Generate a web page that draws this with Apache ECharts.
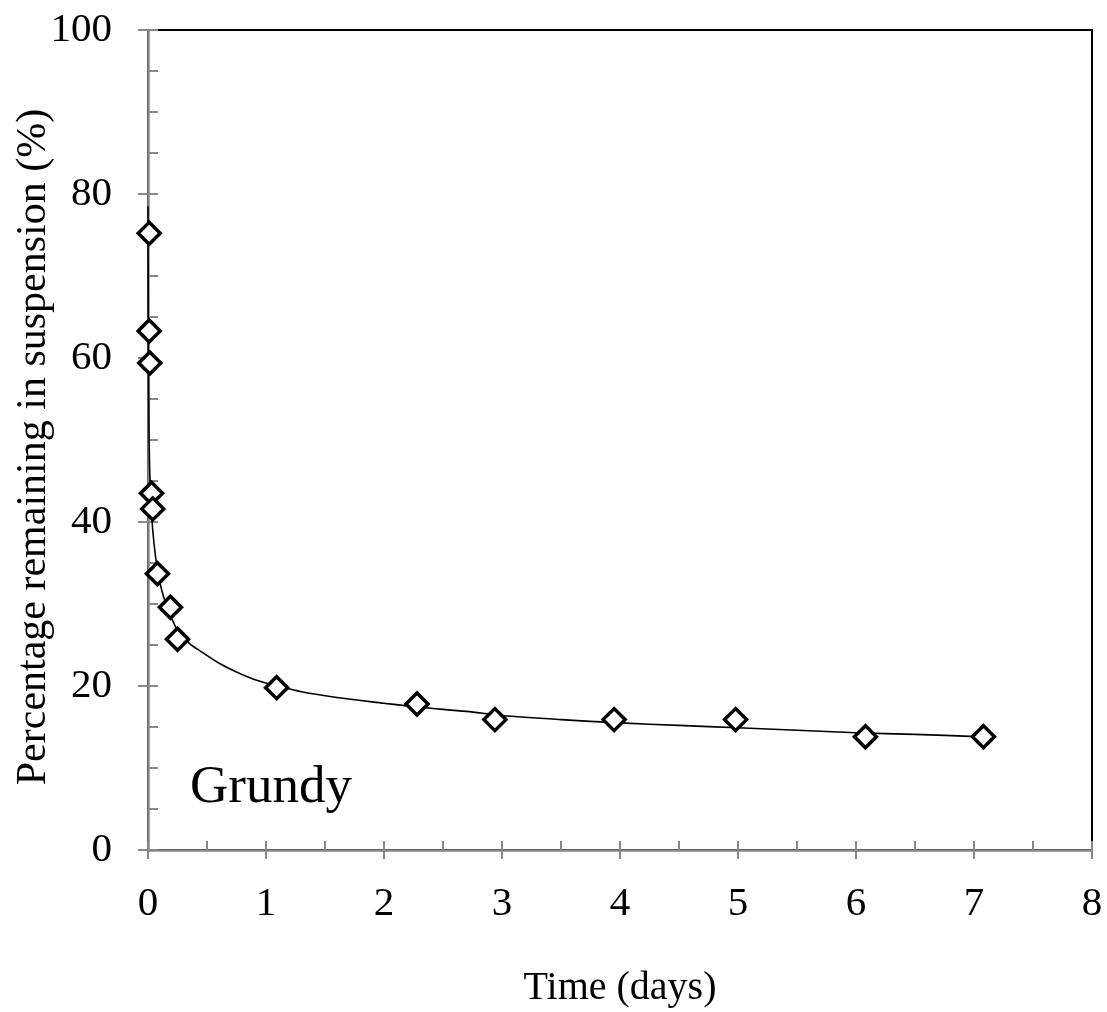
<!DOCTYPE html>
<html>
<head>
<meta charset="utf-8">
<script src="https://cdn.jsdelivr.net/npm/echarts@6/dist/echarts.min.js"></script>
<style>
  html, body { margin: 0; padding: 0; background: #fff; }
  #chart { width: 1107px; height: 1012px; }
</style>
</head>
<body>
<div id="chart"></div>
<script>
// measured points (time in days, % remaining)
const obsTime = [0.01, 0.01, 0.015, 0.03, 0.04, 0.08, 0.19, 0.25, 1.09, 2.28, 2.94, 3.95, 4.98, 6.08, 7.08];
const obsPct = [75.2, 63.3, 59.4, 43.5, 41.6, 33.7, 29.6, 25.7, 19.8, 17.8, 15.9, 15.9, 15.9, 13.8, 13.8];

// fitted curve
const fitTime = [0.0, 0.003, 0.008, 0.015, 0.03, 0.05, 0.08, 0.12, 0.18, 0.25, 0.35, 0.45, 0.6, 0.75, 0.9,
  1.1, 1.3, 1.6, 2.0, 2.3, 2.7, 3.0, 3.5, 4.0, 4.5, 5.0, 5.5, 6.0, 6.5, 7.08];
const fitPct = [78.5, 62, 52, 46, 41, 37.5, 34.2, 31.5, 29, 26.8, 25.2, 24.2, 22.8, 21.7, 20.8,
  20.0, 19.3, 18.6, 17.9, 17.4, 16.9, 16.4, 15.9, 15.5, 15.2, 14.9, 14.6, 14.3, 14.1, 13.8];

const font = "Liberation Serif";
const grey = "#888888";

const chart = echarts.init(document.getElementById("chart"));

const xBase = { type: "value", min: 0, max: 8, interval: 1, position: "bottom" };
const yBase = { type: "value", min: 0, max: 100, interval: 20, position: "left" };

chart.setOption({
  animation: false,
  grid: {
    left: 148, top: 30, right: 15, bottom: 162,
    containLabel: false, outerBoundsMode: "none",
    show: true, borderColor: "#000", borderWidth: 2, backgroundColor: "transparent"
  },
  xAxis: [
    {
      ...xBase,
      name: "Time (days)",
      nameLocation: "middle",
      nameGap: 118,
      nameTextStyle: { fontFamily: font, fontSize: 40, color: "#000" },
      axisLine: { show: true, lineStyle: { color: grey, width: 2.5 } },
      axisTick: { show: true, inside: false, length: 9, lineStyle: { color: grey, width: 2 } },
      minorTick: { show: false },
      axisLabel: { fontFamily: font, fontSize: 41, color: "#000", margin: 34 },
      splitLine: { show: false }
    },
    {
      ...xBase,
      axisLine: { show: false },
      axisTick: { show: true, inside: true, length: 9, lineStyle: { color: grey, width: 2 } },
      minorTick: { show: true, splitNumber: 2, length: 9, lineStyle: { color: grey, width: 2 } },
      axisLabel: { show: false },
      splitLine: { show: false }
    }
  ],
  yAxis: [
    {
      ...yBase,
      axisLine: { show: true, lineStyle: { color: grey, width: 2.5 } },
      axisTick: { show: true, inside: false, length: 10, lineStyle: { color: grey, width: 2 } },
      axisLabel: { fontFamily: font, fontSize: 41, color: "#000", margin: 36 },
      splitLine: { show: false }
    },
    {
      ...yBase,
      axisLine: { show: false },
      axisTick: { show: true, inside: true, length: 10, lineStyle: { color: grey, width: 2 } },
      minorTick: { show: true, splitNumber: 4, length: 10, lineStyle: { color: grey, width: 2 } },
      axisLabel: { show: false },
      splitLine: { show: false }
    }
  ],
  graphic: [
    {
      type: "text", x: 34, y: 447, rotation: Math.PI / 2,
      style: {
        text: "Percentage remaining in suspension (%)", fontFamily: font, fontSize: 42,
        fill: "#000", align: "center", verticalAlign: "middle"
      }
    },
    {
      type: "text", left: 190, top: 762,
      style: { text: "Grundy", fontFamily: font, fontSize: 53, fill: "#000" }
    }
  ],
  series: [
    {
      type: "line",
      data: fitTime.map((t, i) => [t, fitPct[i]]),
      smooth: 0.3,
      showSymbol: false,
      lineStyle: { color: "#000", width: 1.6 },
      z: 2
    },
    {
      type: "scatter",
      data: obsTime.map((t, i) => [t, obsPct[i]]),
      symbol: "diamond",
      symbolSize: 22,
      itemStyle: { color: "#fff", borderColor: "#000", borderWidth: 3.5, opacity: 1 },
      z: 3
    }
  ]
});
</script>
</body>
</html>
